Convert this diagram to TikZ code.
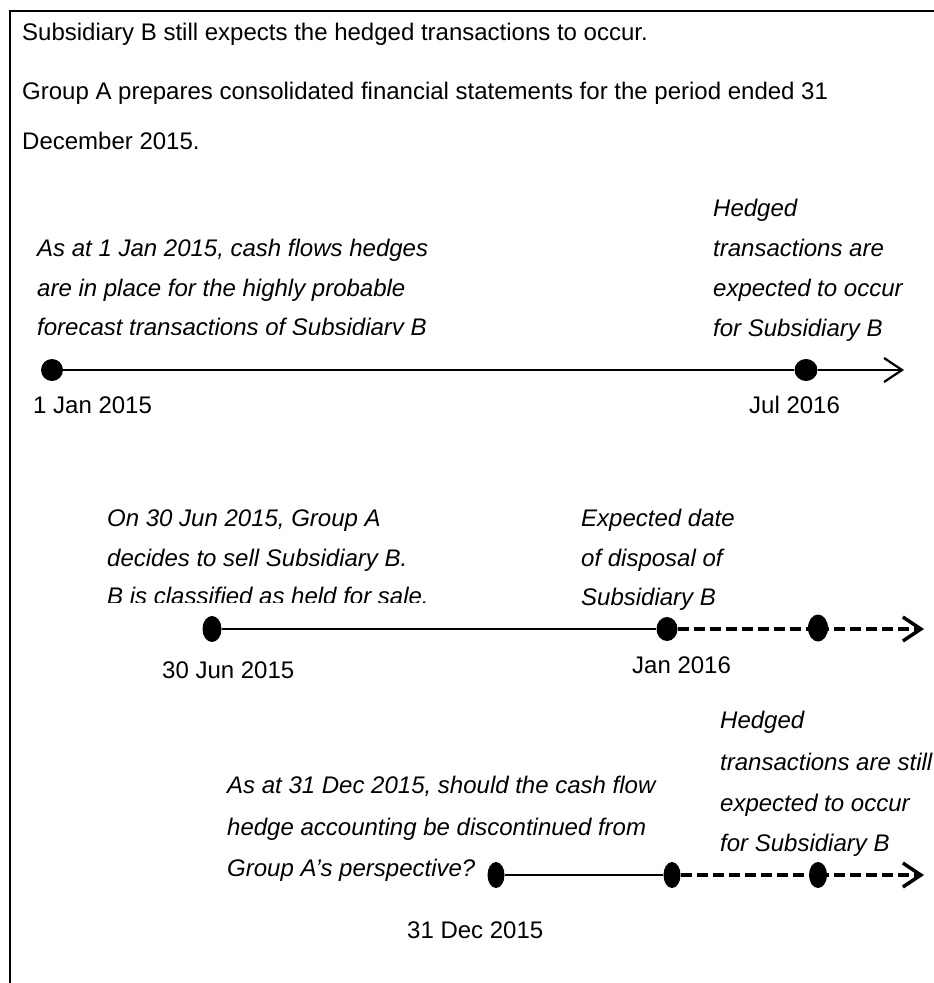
\documentclass[tikz,border=0pt]{standalone}
\usepackage{fontspec}
\setmainfont{Liberation Sans}
\usetikzlibrary{arrows.meta,shapes.geometric}
\begin{document}
\begin{tikzpicture}[x=1pt,y=-1pt,
  txt/.style={anchor=base west,inner sep=0pt,font=\fontsize{24}{28}\selectfont},
  itx/.style={anchor=base west,inner sep=0pt,font=\fontsize{24}{28}\selectfont\itshape},
  dotnode/.style={fill=black,draw=none,ellipse,inner sep=0pt,minimum width=#1},
  solidline/.style={line width=2.2pt},
  dashline/.style={line width=3.5pt,dash pattern=on 11pt off 5pt},
  tip/.style={-{Straight Barb[length=18pt,width=24pt]}},
  frameline/.style={line width=2.4pt}]
\useasboundingbox (0,0) rectangle (934,983);
\fill[white] (0,0) rectangle (934,983);
\draw[frameline] (10,983) -- (10,11) -- (934,11);

% header text
\node[txt] (h1) at (22,40) {Subsidiary B still expects the hedged transactions to occur.};
\node[txt] (h2) at (22,99) {Group A prepares consolidated financial statements for the period ended 31};
\node[txt] (h3) at (22,149) {December 2015.};

% timeline 1
\node[itx] (r1a) at (713,216) {Hedged};
\node[itx] (r1b) at (713,256) {transactions are};
\node[itx] (r1c) at (713,296) {expected to occur};
\node[itx] (r1d) at (713,336) {for Subsidiary B};
\node[itx] (l1a) at (37,256) {As at 1 Jan 2015, cash flows hedges};
\node[itx] (l1b) at (37,296) {are in place for the highly probable};
\begin{scope}
\clip (0,300) rectangle (700,334);
\node[itx] (l1c) at (37,335) {forecast transactions of Subsidiary B};
\end{scope}
\node[dotnode=22pt,minimum height=22pt] (a1) at (52,370) {};
\node[dotnode=23pt,minimum height=22pt] (a2) at (806,370) {};
\coordinate (a3) at (904,370);
\draw[solidline] (a1) -- (a2);
\draw[solidline,tip] (a2) -- (a3);
\node[txt] (t1a) at (33,413) {1 Jan 2015};
\node[txt] (t1b) at (749,413) {Jul 2016};

% timeline 2
\node[itx] (l2a) at (107,526) {On 30 Jun 2015, Group A};
\node[itx] (l2b) at (107,566) {decides to sell Subsidiary B.};
\begin{scope}
\clip (0,570) rectangle (560,602);
\node[itx] (l2c) at (107,604) {B is classified as held for sale.};
\end{scope}
\node[itx] (r2a) at (581,526) {Expected date};
\node[itx] (r2b) at (581,566) {of disposal of};
\node[itx] (r2c) at (581,605) {Subsidiary B};
\node[dotnode=19pt,minimum height=26pt] (b1) at (212,629) {};
\node[dotnode=21pt,minimum height=24pt] (b2) at (667,629) {};
\node[dotnode=20pt,minimum height=27pt] (b3) at (818,628) {};
\coordinate (b4) at (924,629);
\coordinate (b3c) at (818,629);
\draw[solidline] (b1) -- (b2);
\draw[dashline] (b2) -- (b3c);
\draw[dashline,tip] (b3c) -- (b4);
\node[txt] (t2a) at (162,678) {30 Jun 2015};
\node[txt] (t2b) at (632,673) {Jan 2016};

% timeline 3
\node[itx] (r3a) at (720,728) {Hedged};
\node[itx] (r3b) at (720,770) {transactions are still};
\node[itx] (r3c) at (720,811) {expected to occur};
\node[itx] (r3d) at (720,851) {for Subsidiary B};
\node[itx] (l3a) at (227,793) {As at 31 Dec 2015, should the cash flow};
\node[itx] (l3b) at (227,835) {hedge accounting be discontinued from};
\node[itx] (l3c) at (227,876) {Group A's perspective?};
\node[dotnode=17pt,minimum height=26pt] (c1) at (496,875) {};
\node[dotnode=17pt,minimum height=26pt] (c2) at (672,875) {};
\node[dotnode=18pt,minimum height=26pt] (c3) at (818,875) {};
\coordinate (c4) at (924,875);
\draw[solidline] (c1) -- (c2);
\draw[dashline] (c2) -- (c3.center);
\draw[dashline,tip] (c3.center) -- (c4);
\node[txt] (t3a) at (407,938) {31 Dec 2015};
\end{tikzpicture}
\end{document}
